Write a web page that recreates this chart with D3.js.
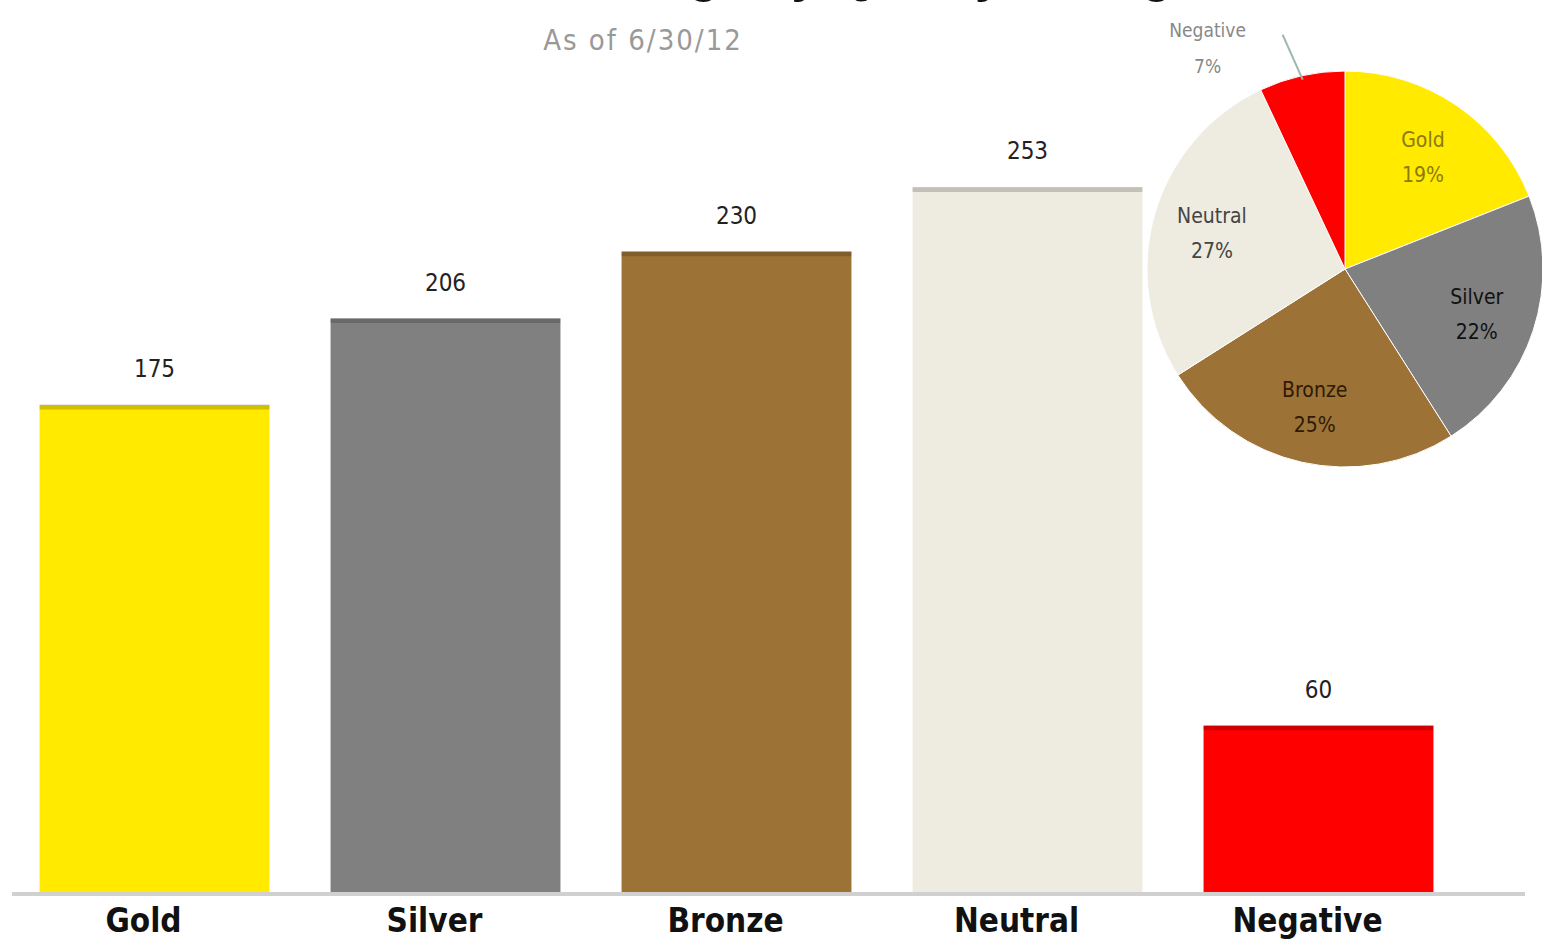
<!DOCTYPE html>
<html>
<head>
<meta charset="utf-8">
<script src="https://cdn.jsdelivr.net/npm/d3@7"></script>
<style>
  body { margin: 0; background: #fff; }
  svg { display: block; }
</style>
</head>
<body>
<svg id="chart" width="1542" height="941"></svg>
<script>
// donnees
const categories = ["Gold", "Silver", "Bronze", "Neutral", "Negative"];
const counts = [175, 206, 230, 253, 60];
const pieShares = [19, 22, 25, 27, 7];
const colors = ["#FFEA00", "#808080", "#9C7236", "#EEEBE0", "#FF0000"];
const pieTextColors = ["#8A7A10", "#111111", "#2E1A05", "#444444", "#888888"];

const titleText = "Distribution of Holdings by Quality Rating";
const subtitleText = "As of 6/30/12";

const svg = d3.select("#chart");
const font = "'DejaVu Sans Condensed', 'Liberation Sans', sans-serif";

// titre (coupe en haut de l'image, comme l'original)
svg.append("text")
  .attr("x", 675).attr("y", -8)
  .attr("text-anchor", "middle")
  .attr("font-family", "'Liberation Sans', sans-serif")
  .attr("font-size", 50).attr("font-weight", "bold")
  .attr("fill", "#111")
  .text(titleText);

svg.append("text")
  .attr("x", 643).attr("y", 50)
  .attr("text-anchor", "middle")
  .attr("font-family", font)
  .attr("font-size", 29)
  .attr("letter-spacing", 2)
  .attr("fill", "#999")
  .text(subtitleText);

// barres
const baseY = 893;
const x = d3.scaleBand().domain(categories).range([9, 1464]).paddingInner(0.21).paddingOuter(0.105);
const y = d3.scaleLinear().domain([0, 175]).range([baseY, 405]);

const bars = svg.append("g").attr("class", "bars");
bars.selectAll("rect")
  .data(categories)
  .join("rect")
  .attr("x", d => x(d))
  .attr("y", (d, i) => y(counts[i]))
  .attr("width", x.bandwidth())
  .attr("height", (d, i) => baseY - y(counts[i]))
  .attr("fill", (d, i) => colors[i]);

// petit liseré sombre en haut des barres
bars.selectAll("line.top")
  .data(categories)
  .join("line")
  .attr("class", "top")
  .attr("x1", d => x(d)).attr("x2", d => x(d) + x.bandwidth())
  .attr("y1", (d, i) => y(counts[i]) + 2).attr("y2", (d, i) => y(counts[i]) + 2)
  .attr("stroke", "#000").attr("stroke-opacity", 0.18).attr("stroke-width", 5);

bars.selectAll("text.val")
  .data(categories)
  .join("text")
  .attr("class", "val")
  .attr("x", d => x(d) + x.bandwidth() / 2)
  .attr("y", (d, i) => y(counts[i]) - 28)
  .attr("text-anchor", "middle")
  .attr("font-family", font)
  .attr("font-size", 24)
  .attr("fill", "#222")
  .text((d, i) => counts[i]);

// axe
svg.append("line")
  .attr("x1", 12).attr("x2", 1525)
  .attr("y1", baseY + 1).attr("y2", baseY + 1)
  .attr("stroke", "#d0d0d0").attr("stroke-width", 4);

svg.append("g")
  .selectAll("text")
  .data(categories)
  .join("text")
  .attr("x", d => x(d) + x.bandwidth() / 2 - 11)
  .attr("y", 932)
  .attr("text-anchor", "middle")
  .attr("font-family", font)
  .attr("font-size", 33).attr("font-weight", "bold")
  .attr("fill", "#111")
  .text(d => d);

// camembert
const cx = 1345, cy = 269, r = 198;
const pie = d3.pie().sort(null).value(d => d);
const arcs = pie(pieShares);
const arc = d3.arc().innerRadius(0).outerRadius(r);
const labelArc = d3.arc().innerRadius(r * 0.7).outerRadius(r * 0.7);

const pg = svg.append("g").attr("transform", `translate(${cx},${cy})`);
pg.selectAll("path")
  .data(arcs)
  .join("path")
  .attr("d", arc)
  .attr("fill", (d, i) => colors[i])
  .attr("stroke", "#fff").attr("stroke-width", 1);

pg.selectAll("text.lbl")
  .data(arcs.slice(0, 4))
  .join("text")
  .attr("class", "lbl")
  .attr("transform", d => `translate(${labelArc.centroid(d)})`)
  .attr("text-anchor", "middle")
  .attr("font-family", font)
  .attr("font-size", 21)
  .attr("fill", (d, i) => pieTextColors[i])
  .each(function (d, i) {
    const t = d3.select(this);
    t.append("tspan").attr("x", 0).attr("dy", "-0.35em").text(categories[i]);
    t.append("tspan").attr("x", 0).attr("dy", "1.65em").text(pieShares[i] + "%");
  });

// etiquette Negative a l'exterieur, avec trait de rappel
const neg = arcs[4];
const mid = (neg.startAngle + neg.endAngle) / 2;
const p1 = [Math.sin(mid) * (r - 4), -Math.cos(mid) * (r - 4)];
const p2 = [Math.sin(mid) * (r + 42) - 10, -Math.cos(mid) * (r + 42)];
pg.append("polyline")
  .attr("points", [p1, p2].map(p => p.join(",")).join(" "))
  .attr("fill", "none").attr("stroke", "#9fb8b0").attr("stroke-width", 2);
const nt = pg.append("text")
  .attr("transform", `translate(${p2[0] - 75},${p2[1] + 2})`)
  .attr("text-anchor", "middle")
  .attr("font-family", font)
  .attr("font-size", 19)
  .attr("fill", pieTextColors[4]);
nt.append("tspan").attr("x", 0).attr("dy", 0).text(categories[4]);
nt.append("tspan").attr("x", 0).attr("dy", "1.9em").text(pieShares[4] + "%");
</script>
</body>
</html>
